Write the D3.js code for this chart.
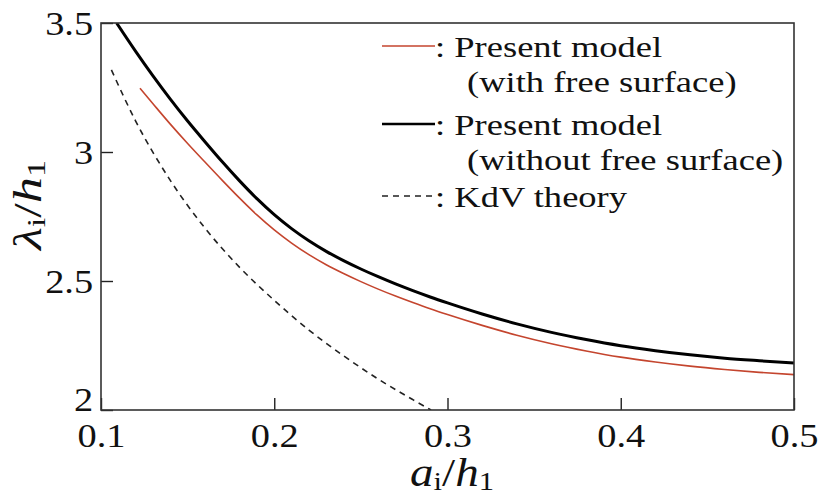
<!DOCTYPE html>
<html>
<head>
<meta charset="utf-8">
<script src="https://cdn.jsdelivr.net/npm/d3@7"></script>
<style>
  html, body { margin: 0; padding: 0; background: #fff; }
  svg { display: block; }
</style>
</head>
<body>
<svg id="chart" width="821" height="494"></svg>
<script>
// Normalised amplitude a_i/h_1 and wavelength λ_i/h_1 for each model
const withSurfaceA = [0.1225, 0.13, 0.14, 0.15, 0.16, 0.17, 0.18, 0.19, 0.20, 0.21, 0.22, 0.23, 0.24, 0.25, 0.26, 0.27, 0.28, 0.29, 0.30, 0.32, 0.34, 0.36, 0.38, 0.40, 0.42, 0.44, 0.46, 0.48, 0.50];
const withSurfaceL = [3.247, 3.187, 3.108, 3.033, 2.961, 2.890, 2.821, 2.756, 2.698, 2.647, 2.602, 2.563, 2.529, 2.4975, 2.4685, 2.4415, 2.4165, 2.3925, 2.370, 2.328, 2.290, 2.257, 2.229, 2.205, 2.186, 2.170, 2.157, 2.146, 2.137];

const withoutSurfaceA = [0.109, 0.12, 0.13, 0.14, 0.15, 0.16, 0.17, 0.18, 0.19, 0.20, 0.21, 0.22, 0.23, 0.24, 0.25, 0.26, 0.27, 0.28, 0.29, 0.30, 0.32, 0.34, 0.36, 0.38, 0.40, 0.42, 0.44, 0.46, 0.48, 0.50];
const withoutSurfaceL = [3.50, 3.39, 3.295, 3.205, 3.12, 3.04, 2.962, 2.888, 2.819, 2.757, 2.703, 2.656, 2.615, 2.579, 2.5465, 2.5165, 2.4885, 2.4625, 2.438, 2.415, 2.372, 2.334, 2.301, 2.273, 2.249, 2.230, 2.214, 2.201, 2.191, 2.182];

const kdvA = [0.106, 0.12, 0.14, 0.16, 0.18, 0.20, 0.22, 0.24, 0.26, 0.28, 0.2905];
const kdvL = [3.318, 3.12, 2.89, 2.705, 2.553, 2.425, 2.31, 2.21, 2.12, 2.04, 2.0];

const xTicks = [0.1, 0.2, 0.3, 0.4, 0.5];
const yTicks = [2, 2.5, 3, 3.5];

const legendLabels = [
  [": Present model", "(with free surface)"],
  [": Present model", "(without free surface)"],
  [": KdV theory"]
];

// Pick the first serif face that is actually installed
function pickFont(names) {
  const ctx = document.createElement("canvas").getContext("2d");
  const probe = "Present model 0.123 (wvx)";
  ctx.font = "40px monospace";
  const base = ctx.measureText(probe).width;
  for (const n of names) {
    ctx.font = `40px "${n}", monospace`;
    if (Math.abs(ctx.measureText(probe).width - base) > 0.5) return `"${n}", serif`;
  }
  return "serif";
}
const FONT = pickFont(["Liberation Serif", "Tinos", "Times New Roman", "Times", "Nimbus Roman",
  "Nimbus Roman No9 L", "FreeSerif", "DejaVu Serif", "Noto Serif", "Georgia"]);

const svg = d3.select("#chart").style("font-family", FONT);
const plotL = 101, plotR = 794, plotT = 23, plotB = 410;

// horizontal stretch that brings a sample string to a given width
function stretchFor(sample, size, width) {
  const t = svg.append("text").attr("font-size", size).attr("font-family", FONT).text(sample);
  const w = t.node().getComputedTextLength();
  t.remove();
  return width / w;
}

const x = d3.scaleLinear().domain([0.1, 0.5]).range([plotL, plotR]);
const y = d3.scaleLinear().domain([2, 3.5]).range([plotB, plotT]);

svg.append("rect").attr("width", 821).attr("height", 494).attr("fill", "#fff");

svg.append("defs").append("clipPath").attr("id", "plot")
  .append("rect").attr("x", plotL).attr("y", plotT)
  .attr("width", plotR - plotL).attr("height", plotB - plotT);

const line = d3.line().x(d => x(d[0])).y(d => y(d[1])).curve(d3.curveMonotoneX);
const zip = (a, b) => a.map((v, i) => [v, b[i]]);

const curves = svg.append("g").attr("clip-path", "url(#plot)");
curves.append("path").datum(zip(kdvA, kdvL)).attr("d", line)
  .attr("fill", "none").attr("stroke", "#222").attr("stroke-width", 1.6)
  .attr("stroke-dasharray", "6,5");
curves.append("path").datum(zip(withSurfaceA, withSurfaceL)).attr("d", line)
  .attr("fill", "none").attr("stroke", "#c4452e").attr("stroke-width", 1.6);
curves.append("path").datum(zip(withoutSurfaceA, withoutSurfaceL)).attr("d", line)
  .attr("fill", "none").attr("stroke", "#000").attr("stroke-width", 3);

// Axes with inward ticks
const tickSX = stretchFor("0.3", 34, 48);
const xAxis = svg.append("g").attr("transform", `translate(0,${plotB})`)
  .call(d3.axisBottom(x).tickValues(xTicks).tickFormat(d3.format(".1f"))
    .tickSizeInner(-12).tickSizeOuter(0).tickPadding(13));
xAxis.selectAll("text").attr("font-size", 34).attr("transform", `scale(${tickSX},1)`)
  .attr("font-family", FONT).attr("fill", "#111");

const yAxis = svg.append("g").attr("transform", `translate(${plotL},0)`)
  .call(d3.axisLeft(y).tickValues(yTicks).tickFormat(d => d3.format("")(d))
    .tickSizeInner(-12).tickSizeOuter(0).tickPadding(7));
yAxis.selectAll("text").attr("font-size", 34).attr("transform", `scale(${tickSX},1)`)
  .attr("font-family", FONT).attr("fill", "#111")
  .attr("dy", d => d === 2 ? "0em" : "0.33em");

[xAxis, yAxis].forEach(g => {
  g.select(".domain").remove();
  g.selectAll(".tick line").attr("stroke", "#222").attr("stroke-width", 1.4);
});

// Frame
svg.append("rect").attr("x", plotL).attr("y", plotT)
  .attr("width", plotR - plotL).attr("height", plotB - plotT)
  .attr("fill", "none").attr("stroke", "#333").attr("stroke-width", 1.6);

// Axis titles: symbol, roman subscript, slash, symbol, subscript
function axisTitle(sym, sub1, sub2) {
  const t = svg.append("text").attr("font-size", 40).attr("fill", "#111")
    .attr("text-anchor", "middle");
  t.append("tspan").attr("font-style", "italic").text(sym);
  t.append("tspan").attr("font-size", 26).attr("dy", 4).text(sub1);
  t.append("tspan").attr("dy", -4).text("/");
  t.append("tspan").attr("font-style", "italic").text("h");
  t.append("tspan").attr("font-size", 26).attr("dy", 4).text(sub2);
  return t;
}
const xt = axisTitle("a", "i", "1");
const xtSX = 84 / xt.node().getComputedTextLength();
xt.attr("transform", `translate(452,486) scale(${xtSX},1)`);

const yt = axisTitle("λ", "i", "1");
const ytSX = 90 / yt.node().getComputedTextLength();
yt.attr("transform", `translate(41,205) rotate(-90) scale(${ytSX},1)`);

// Legend
const legSX = stretchFor("Present model", 30, 208);
const legendStyles = [
  { stroke: "#c4452e", width: 1.6, dash: null, y: 46 },
  { stroke: "#000", width: 2.6, dash: null, y: 124 },
  { stroke: "#222", width: 1.6, dash: "6,5", y: 196 }
];
const legend = svg.append("g");
legendStyles.forEach((s, i) => {
  legend.append("line").attr("x1", 382).attr("x2", 435)
    .attr("y1", s.y).attr("y2", s.y)
    .attr("stroke", s.stroke).attr("stroke-width", s.width)
    .attr("stroke-dasharray", s.dash);
  legendLabels[i].forEach((t, j) => {
    legend.append("text").attr("font-size", 30).attr("fill", "#111")
      .attr("transform", `translate(${j === 0 ? 435 : 467},${s.y + 11 + j * 35}) scale(${legSX},1)`)
      .text(t);
  });
});
</script>
</body>
</html>
